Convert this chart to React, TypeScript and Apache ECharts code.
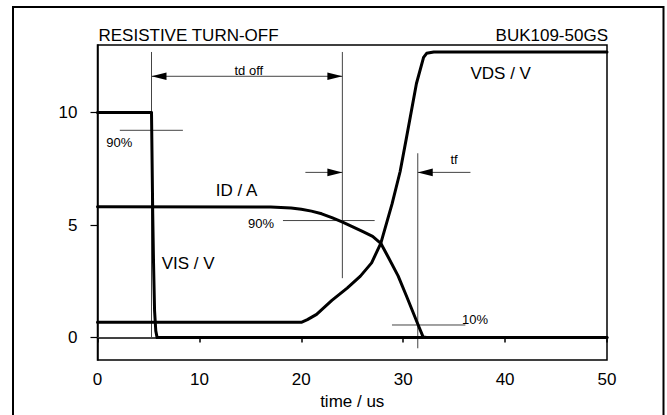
import React, { useEffect, useRef } from "react";
import * as echarts from "echarts";

// ---- data (time in us, values in V / A) ----
const visTime = [0, 5.3, 5.42, 5.5, 5.6, 5.72, 5.85, 50];
const visValue = [10, 10, 5.5, 3.3, 1.2, 0.3, 0, 0];

const idTime = [0, 17, 19, 20, 21, 22, 23, 24, 25, 26, 27, 27.8, 28.5, 29.5, 30.3, 31.4, 31.95, 32.3, 50];
const idValue = [5.81, 5.8, 5.76, 5.7, 5.62, 5.5, 5.33, 5.14, 4.93, 4.72, 4.5, 4.19, 3.6, 2.74, 1.87, 0.64, 0.03, 0, 0];

const vdsTime = [0, 20, 20.6, 21.5, 23.0, 24.5, 25.8, 26.9, 27.8, 28.9, 29.7, 30.3, 31.3, 32.0, 32.3, 33, 50];
const vdsValue = [0.68, 0.68, 0.8, 1.03, 1.65, 2.2, 2.73, 3.32, 4.19, 5.93, 7.38, 8.83, 11.29, 12.45, 12.63, 12.69, 12.69];

const xTicks = [0, 10, 20, 30, 40, 50];
const yTickValues = [0, 5, 10];

// annotation segments: [t1, v1, t2, v2, arrowAtStart, arrowAtEnd]
const annotationSegments = [
  [0, 0, 50, 0, 0, 0],
  [5.3, 12.69, 5.3, 0, 0, 0],
  [24.03, 12.69, 24.03, 2.64, 0, 0],
  [31.43, 8.19, 31.43, -0.475, 0, 0],
  [5.3, 11.61, 24.03, 11.61, 1, 1],
  [20.4, 7.34, 24.03, 7.34, 0, 1],
  [36.6, 7.34, 31.43, 7.34, 0, 1],
  [2.19, 9.21, 8.38, 9.21, 0, 0],
  [18.2, 5.2, 27.2, 5.2, 0, 0],
  [28.9, 0.56, 36.1, 0.56, 0, 0],
];

// annotation labels
const labelTexts = ["td off", "VDS / V", "ID / A", "VIS / V", "90%", "90%", "tf", "10%"];
const labelTime = [14.85, 39.57, 13.65, 8.9, 2.14, 16.05, 34.99, 37.05];
const labelValue = [11.86, 11.73, 6.52, 3.3, 8.65, 5.05, 7.91, 0.82];
const labelBig = [false, true, true, true, false, false, false, false];

const titleLeft = "RESISTIVE TURN-OFF";
const titleRight = "BUK109-50GS";
const xName = "time / us";

const FONT = "'Liberation Sans', Arial, Helvetica, sans-serif";

function zip(a: number[], b: number[]) {
  return a.map((t, i) => [t, b[i]]);
}

export default function App() {
  const ref = useRef<HTMLDivElement>(null);

  useEffect(() => {
    if (!ref.current) return;
    const chart = echarts.init(ref.current, undefined, { renderer: "svg" });

    const lineSeries = (name: string, data: number[][]) => ({
      name,
      type: "line",
      data,
      symbol: "none",
      z: 5,
      lineStyle: { color: "#000", width: 3, join: "round", cap: "round" },
      silent: true,
    });

    chart.setOption({
      animation: false,
      backgroundColor: "#fff",
      grid: {
        left: 97.5,
        right: 60,
        top: 45,
        bottom: 50,
        show: true,
        borderColor: "#000",
        borderWidth: 1.5,
        backgroundColor: "transparent",
      },
      xAxis: {
        type: "value",
        min: xTicks[0],
        max: xTicks[xTicks.length - 1],
        interval: 10,
        name: xName,
        nameLocation: "middle",
        nameGap: 30,
        nameTextStyle: { fontFamily: FONT, fontSize: 17, color: "#000" },
        axisLine: { show: true, lineStyle: { color: "#000", width: 1.5 } },
        axisTick: { show: true, length: 5, lineStyle: { color: "#000", width: 1.5 } },
        axisLabel: { margin: 11, fontFamily: FONT, fontSize: 17, color: "#000" },
        splitLine: { show: false },
      },
      yAxis: {
        type: "value",
        min: -1,
        max: 13,
        axisLine: { show: true, lineStyle: { color: "#000", width: 1.5 } },
        axisTick: {
          show: true,
          length: 7,
          customValues: yTickValues,
          lineStyle: { color: "#000", width: 1.2 },
        },
        axisLabel: {
          margin: 20,
          customValues: yTickValues,
          fontFamily: FONT,
          fontSize: 17,
          color: "#000",
        },
        splitLine: { show: false },
      },
      graphic: [
        {
          type: "rect",
          shape: { x: 13, y: 7, width: 650.5, height: 420 },
          style: { fill: "none", stroke: "#000", lineWidth: 2 },
          silent: true,
        },
        {
          type: "text",
          x: 98.5,
          y: 35.5,
          style: {
            text: titleLeft,
            font: `17px ${FONT}`,
            fill: "#000",
            align: "left",
            verticalAlign: "middle",
            textAlign: "left",
            textVerticalAlign: "middle",
          },
        },
        {
          type: "text",
          x: 608,
          y: 35.5,
          style: {
            text: titleRight,
            font: `17px ${FONT}`,
            fill: "#000",
            align: "right",
            verticalAlign: "middle",
            textAlign: "right",
            textVerticalAlign: "middle",
          },
        },
      ],
      series: [
        {
          type: "custom",
          coordinateSystem: "cartesian2d",
          data: annotationSegments,
          encode: { x: [0, 2], y: [1, 3] },
          clip: false,
          silent: true,
          z: 2,
          renderItem: (params: any, api: any) => {
            const p1 = api.coord([api.value(0), api.value(1)]);
            const p2 = api.coord([api.value(2), api.value(3)]);
            const children: any[] = [
              {
                type: "line",
                shape: { x1: p1[0], y1: p1[1], x2: p2[0], y2: p2[1] },
                style: { stroke: "#444", lineWidth: 1 },
              },
            ];
            const arrow = (tip: number[], from: number[]) => {
              const dx = tip[0] - from[0];
              const dy = tip[1] - from[1];
              const len = Math.sqrt(dx * dx + dy * dy) || 1;
              const ux = dx / len;
              const uy = dy / len;
              const bx = tip[0] - ux * 15;
              const by = tip[1] - uy * 15;
              const nx = -uy * 3.8;
              const ny = ux * 3.8;
              return {
                type: "polygon",
                shape: { points: [[tip[0], tip[1]], [bx + nx, by + ny], [bx - nx, by - ny]] },
                style: { fill: "#000" },
              };
            };
            if (api.value(4)) children.push(arrow(p1, p2));
            if (api.value(5)) children.push(arrow(p2, p1));
            return { type: "group", children };
          },
        },
        {
          type: "custom",
          coordinateSystem: "cartesian2d",
          data: zip(labelTime, labelValue),
          clip: false,
          silent: true,
          z: 6,
          renderItem: (params: any, api: any) => {
            const p = api.coord([api.value(0), api.value(1)]);
            const i = params.dataIndex;
            return {
              type: "text",
              x: p[0],
              y: p[1],
              style: {
                text: labelTexts[i],
                font: `${labelBig[i] ? 17 : 13}px ${FONT}`,
                fill: "#000",
                align: "center",
                verticalAlign: "middle",
                textAlign: "center",
                textVerticalAlign: "middle",
              },
            };
          },
        },
        lineSeries("VIS", zip(visTime, visValue)),
        lineSeries("ID", zip(idTime, idValue)),
        lineSeries("VDS", zip(vdsTime, vdsValue)),
      ],
    });

    return () => chart.dispose();
  }, []);

  return (
    <div
      ref={ref}
      style={{ position: "fixed", left: 0, top: 0, width: 667, height: 415, background: "#fff" }}
    />
  );
}
